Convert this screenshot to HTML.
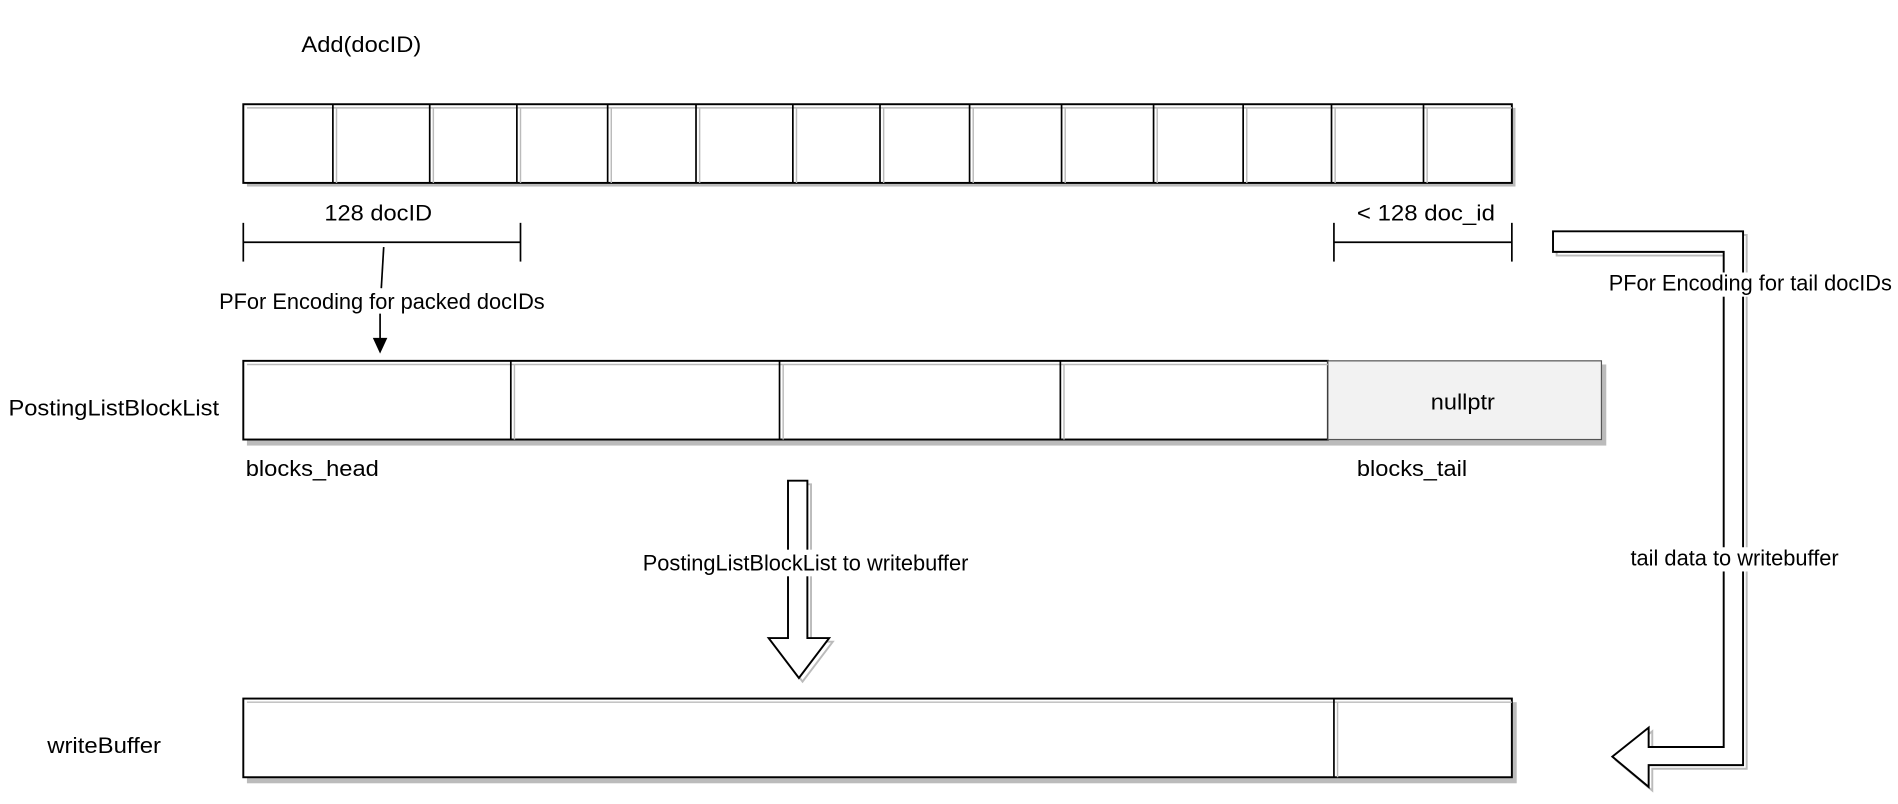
<!DOCTYPE html>
<html><head><meta charset="utf-8"><style>
html,body{margin:0;padding:0;background:#fff;}
svg{display:block;}
text{font-family:"Liberation Sans",Arial,sans-serif;font-size:18px;fill:#000;}
</style></head><body>
<svg width="1898" height="804" viewBox="0 0 1568 664" xmlns="http://www.w3.org/2000/svg">
<text x="249" y="43" textLength="99" lengthAdjust="spacingAndGlyphs">Add(docID)</text>
<g>
<rect x="204" y="89" width="1048" height="65" fill="#bbb"/>
<rect x="201" y="86" width="1048" height="65" fill="#fff" stroke="#000" stroke-width="1.6"/>
<g stroke="#bbb" stroke-width="1.2">
<line x1="278" y1="89" x2="278" y2="151"/><line x1="358" y1="89" x2="358" y2="151"/><line x1="430" y1="89" x2="430" y2="151"/><line x1="505" y1="89" x2="505" y2="151"/><line x1="578" y1="89" x2="578" y2="151"/><line x1="658" y1="89" x2="658" y2="151"/><line x1="730" y1="89" x2="730" y2="151"/><line x1="804" y1="89" x2="804" y2="151"/><line x1="880" y1="89" x2="880" y2="151"/><line x1="956" y1="89" x2="956" y2="151"/><line x1="1030" y1="89" x2="1030" y2="151"/><line x1="1103" y1="89" x2="1103" y2="151"/><line x1="1179" y1="89" x2="1179" y2="151"/>
<line x1="204" y1="89" x2="1249" y2="89"/>
</g>
<g stroke="#000" stroke-width="1.4">
<line x1="275" y1="86" x2="275" y2="151"/><line x1="355" y1="86" x2="355" y2="151"/><line x1="427" y1="86" x2="427" y2="151"/><line x1="502" y1="86" x2="502" y2="151"/><line x1="575" y1="86" x2="575" y2="151"/><line x1="655" y1="86" x2="655" y2="151"/><line x1="727" y1="86" x2="727" y2="151"/><line x1="801" y1="86" x2="801" y2="151"/><line x1="877" y1="86" x2="877" y2="151"/><line x1="953" y1="86" x2="953" y2="151"/><line x1="1027" y1="86" x2="1027" y2="151"/><line x1="1100" y1="86" x2="1100" y2="151"/><line x1="1176" y1="86" x2="1176" y2="151"/>
</g>
</g>
<g stroke="#000" stroke-width="1.4" fill="none">
<line x1="201" y1="184" x2="201" y2="216"/><line x1="430" y1="184" x2="430" y2="216"/><line x1="201" y1="200" x2="430" y2="200"/>
<line x1="1102" y1="184" x2="1102" y2="216"/><line x1="1249" y1="184" x2="1249" y2="216"/><line x1="1102" y1="200" x2="1249" y2="200"/>
<line x1="317" y1="204" x2="315" y2="238"/><line x1="314" y1="259" x2="314" y2="280"/>
</g>
<polygon points="308,279 320,279 314,292" fill="#000"/>
<text x="268" y="182" textLength="89" lengthAdjust="spacingAndGlyphs">128 docID</text>
<text x="1121" y="182" textLength="114" lengthAdjust="spacingAndGlyphs">&lt; 128 doc_id</text>
<text x="181" y="255" textLength="269" lengthAdjust="spacingAndGlyphs">PFor Encoding for packed docIDs</text>
<rect x="204" y="301" width="1123" height="67" fill="#bbb"/>
<rect x="201" y="298" width="896" height="65" fill="#fff" stroke="#000" stroke-width="1.6"/>
<rect x="1097" y="298" width="226" height="65" fill="#f2f2f2" stroke="#555" stroke-width="1"/>
<g stroke="#bbb" stroke-width="1.2"><line x1="204" y1="301" x2="1097" y2="301"/><line x1="425" y1="301" x2="425" y2="363"/><line x1="647" y1="301" x2="647" y2="363"/><line x1="879" y1="301" x2="879" y2="363"/></g>
<g stroke="#000" stroke-width="1.4"><line x1="422" y1="298" x2="422" y2="363"/><line x1="644" y1="298" x2="644" y2="363"/><line x1="876" y1="298" x2="876" y2="363"/></g>
<text x="1182" y="338" textLength="53" lengthAdjust="spacingAndGlyphs">nullptr</text>
<text x="7" y="343" textLength="174" lengthAdjust="spacingAndGlyphs">PostingListBlockList</text>
<text x="203" y="393" textLength="110" lengthAdjust="spacingAndGlyphs">blocks_head</text>
<text x="1121" y="393" textLength="91" lengthAdjust="spacingAndGlyphs">blocks_tail</text>
<polygon points="654,400 670,400 670,530 688,530 663,563 638,530 654,530" fill="none" stroke="#bbb" stroke-width="1.6"/>
<polygon points="651,397 667,397 667,527 685,527 660,560 635,527 651,527" fill="#fff" stroke="#000" stroke-width="1.6"/>
<rect x="530" y="454" width="271" height="22" fill="#fff"/>
<text x="531" y="471" textLength="269" lengthAdjust="spacingAndGlyphs">PostingListBlockList to writebuffer</text>
<polygon points="1286,194 1443,194 1443,635 1365,635 1365,653 1335,628 1365,604 1365,620 1427,620 1427,211 1286,211" fill="none" stroke="#bbb" stroke-width="1.6"/>
<polygon points="1283,191 1440,191 1440,632 1362,632 1362,650 1332,625 1362,601 1362,617 1424,617 1424,208 1283,208" fill="#fff" stroke="#000" stroke-width="1.6"/>
<rect x="1328" y="225" width="236" height="20" fill="#fff"/>
<text x="1329" y="240" textLength="234" lengthAdjust="spacingAndGlyphs">PFor Encoding for tail docIDs</text>
<rect x="1346" y="452" width="174" height="20" fill="#fff"/>
<text x="1347" y="467" textLength="172" lengthAdjust="spacingAndGlyphs">tail data to writebuffer</text>
<rect x="204" y="580" width="1049" height="67" fill="#bbb"/>
<rect x="201" y="577" width="1048" height="65" fill="#fff" stroke="#000" stroke-width="1.6"/>
<g stroke="#bbb" stroke-width="1.2"><line x1="204" y1="580" x2="1249" y2="580"/><line x1="1105" y1="580" x2="1105" y2="642"/></g>
<line x1="1102" y1="577" x2="1102" y2="642" stroke="#000" stroke-width="1.4"/>
<text x="39" y="622" textLength="94" lengthAdjust="spacingAndGlyphs">writeBuffer</text>
</svg>
</body></html>
